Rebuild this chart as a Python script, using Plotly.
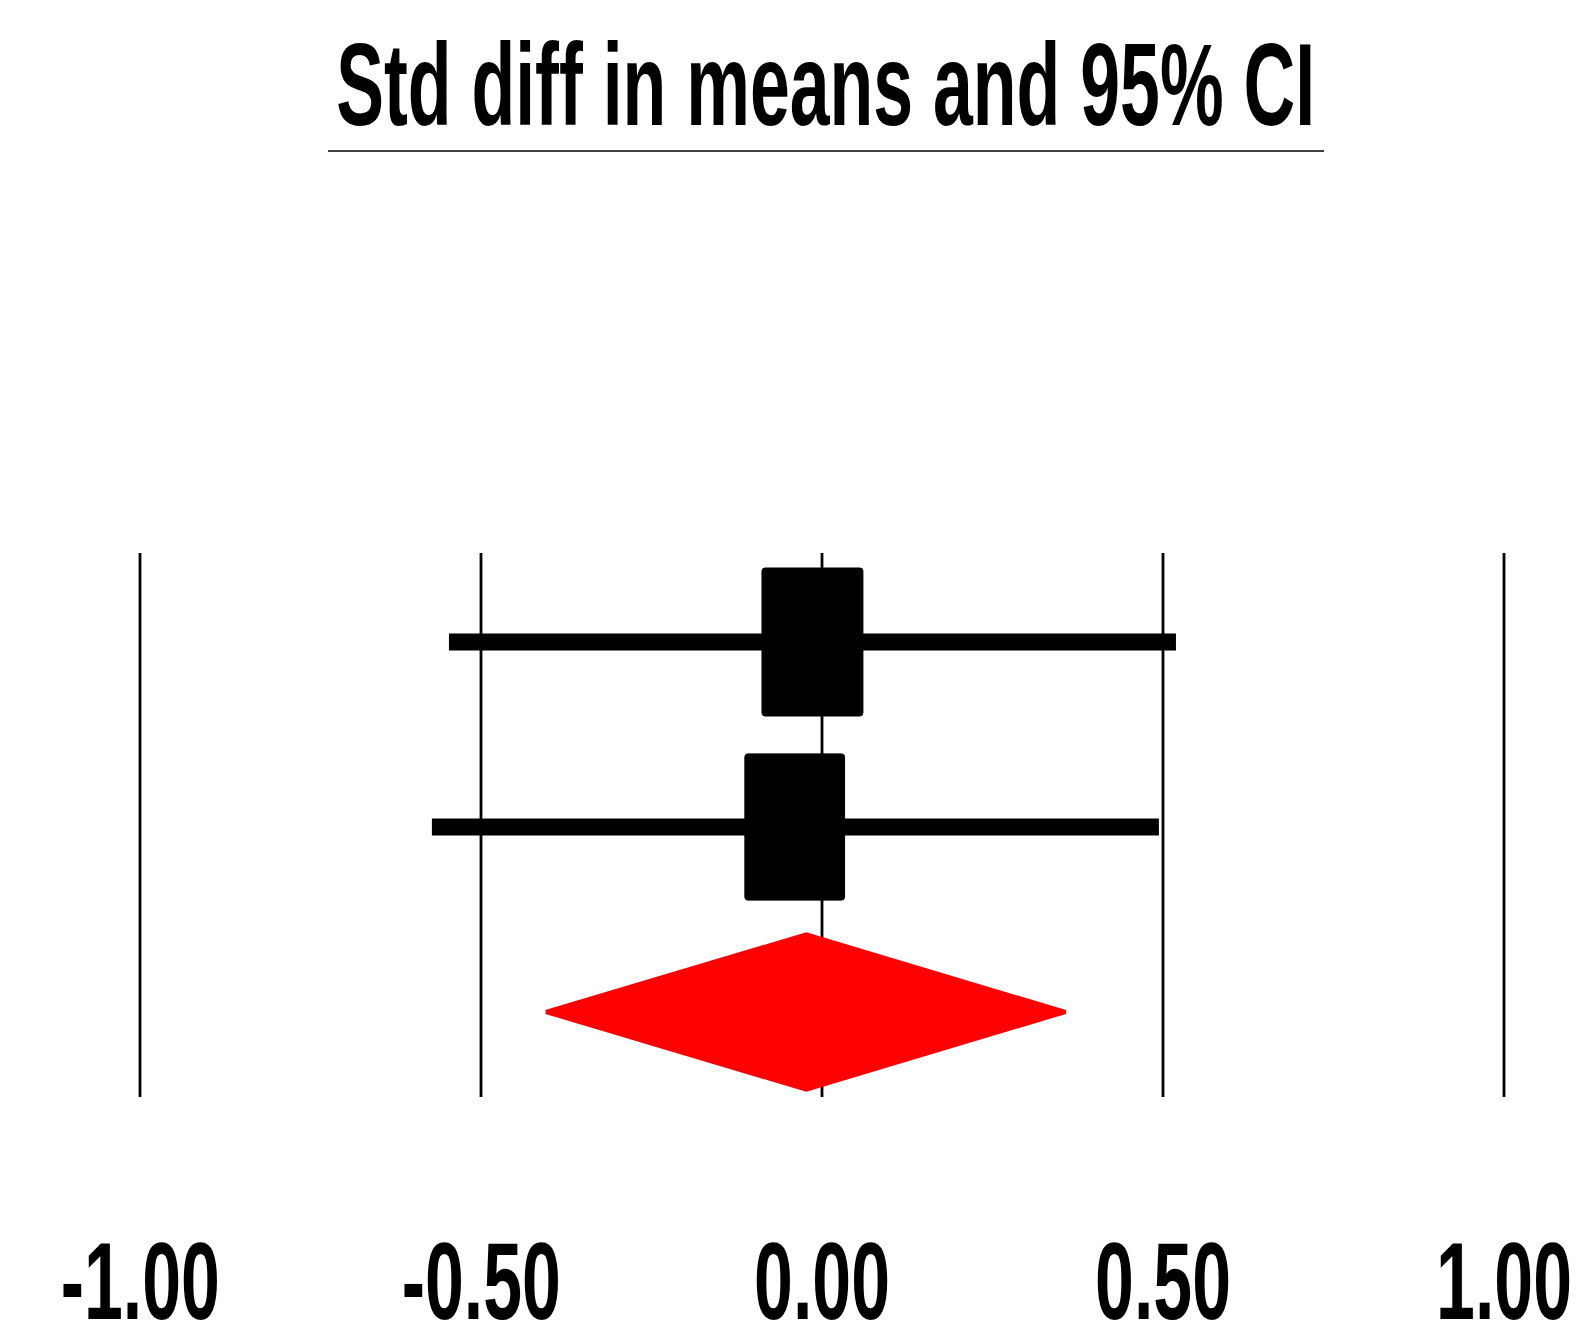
import plotly.graph_objects as go

# ---------------- data ----------------
studies = ["Study 1", "Study 2"]
est = [-0.014, -0.040]
lower = [-0.547, -0.572]
upper = [0.519, 0.494]
weights = [50.6, 49.4]          # relative weights (%)

pooled_est = -0.023
pooled_lower = -0.405
pooled_upper = 0.357

tick_vals = [-1.0, -0.5, 0.0, 0.5, 1.0]
tick_text = ["-1.00", "-0.50", "0.00", "0.50", "1.00"]
title_text = "Std diff in means and 95% CI"

# ---------------- styling / layout constants ----------------
W, H = 1582, 1326
PX0, PXU = 822, 682            # pixel of x=0, pixels per unit
ROW0, ROWH = 642, 185          # pixel of row 0 centre, pixels per row
box_w_max, box_h_max = 0.148, 0.80
diamond_half_h = 0.42
grid_top, grid_bot = -0.481, 2.459
corner_px = 3

x_range = [-PX0 / PXU, (W - PX0) / PXU]
y_range = [(H - ROW0) / ROWH, -ROW0 / ROWH]


def rounded_rect(x0, x1, y0, y1, rpx):
    rx, ry = rpx / PXU, rpx / ROWH
    return (f"M {x0 + rx},{y0} L {x1 - rx},{y0} Q {x1},{y0} {x1},{y0 + ry} "
            f"L {x1},{y1 - ry} Q {x1},{y1} {x1 - rx},{y1} "
            f"L {x0 + rx},{y1} Q {x0},{y1} {x0},{y1 - ry} "
            f"L {x0},{y0 + ry} Q {x0},{y0} {x0 + rx},{y0} Z")


fig = go.Figure()

# grid lines
gx, gy = [], []
for t in tick_vals:
    gx += [t, t, None]
    gy += [grid_top, grid_bot, None]
fig.add_trace(go.Scatter(x=gx, y=gy, mode="lines",
                         line=dict(color="black", width=2.8),
                         hoverinfo="skip", showlegend=False))

# confidence-interval lines
for i, name in enumerate(studies):
    fig.add_trace(go.Scatter(x=[lower[i], upper[i]], y=[i, i], mode="lines",
                             line=dict(color="black", width=17),
                             name=name, showlegend=False))

# study boxes (size from weight)
wmax = max(weights)
for i in range(len(studies)):
    s = (weights[i] / wmax) ** 0.5
    bw, bh = box_w_max * s, box_h_max * s
    fig.add_shape(type="path", xref="x", yref="y",
                  path=rounded_rect(est[i] - bw / 2, est[i] + bw / 2,
                                    i - bh / 2, i + bh / 2, corner_px),
                  fillcolor="black", line=dict(color="black", width=1))

# pooled diamond
r = len(studies)
fig.add_trace(go.Scatter(
    x=[pooled_lower, pooled_est, pooled_upper, pooled_est, pooled_lower],
    y=[r, r - diamond_half_h, r, r + diamond_half_h, r],
    mode="lines", fill="toself", fillcolor="#ff0000",
    line=dict(color="#ff0000", width=4, shape="linear"),
    name="Pooled", showlegend=False))

# title + underline
fig.add_annotation(text="<b>" + title_text + "</b>", x=(336 + 1315) / 2 / W, xref="paper",
                   y=1 - 17 / H, yref="paper", yanchor="top", xanchor="center",
                   showarrow=False,
                   font=dict(family="Liberation Sans, Arial, sans-serif", size=117, color="black"))
fig.add_shape(type="line", xref="paper", yref="paper",
              x0=328 / W, x1=1324 / W, y0=1 - 151 / H, y1=1 - 151 / H,
              line=dict(color="black", width=1.5))

# tick labels
for v, t in zip(tick_vals, tick_text):
    fig.add_annotation(text="<b>" + t + "</b>", x=v, xref="x",
                       y=1 - 1216.5 / H, yref="paper", yanchor="top", xanchor="center",
                       showarrow=False,
                       font=dict(family="Liberation Sans, Arial, sans-serif", size=110, color="black"))

fig.update_layout(
    width=W, height=H,
    margin=dict(l=0, r=0, t=0, b=0),
    paper_bgcolor="white", plot_bgcolor="white",
    xaxis=dict(range=x_range, visible=False, showgrid=False, zeroline=False, fixedrange=True),
    yaxis=dict(range=y_range, visible=False, showgrid=False, zeroline=False, fixedrange=True),
    showlegend=False,
)

post = """
document.body.style.margin = '0';
document.body.style.padding = '0';
var gd = document.querySelector('.plotly-graph-div');
gd.querySelectorAll('text.annotation-text').forEach(function(t){
  var bb = t.getBBox();
  var s = (t.textContent.length > 8) ? (979 / bb.width) : 0.635;
  var cx = bb.x + bb.width / 2;
  var prev = t.getAttribute('transform') || '';
  t.setAttribute('transform', prev + ' translate(' + cx + ',0) scale(' + s + ',1) translate(' + (-cx) + ',0)');
});
"""

fig.write_html("out.html", post_script=post, config={"displayModeBar": False})
